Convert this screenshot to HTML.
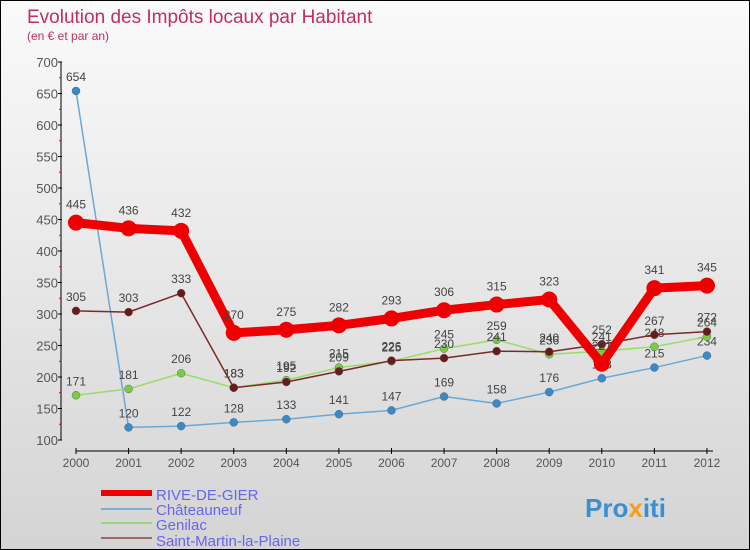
<!DOCTYPE html>
<html><head><meta charset="utf-8"><style>
body{margin:0}
#c{position:relative;width:748px;height:548px;border:1px solid #000;background:linear-gradient(#fafafa,#d4d4d4);font-family:"Liberation Sans",sans-serif;overflow:hidden}
</style></head><body>
<div id="c">
<svg width="748" height="548" id="s">
<text x="26" y="22" font-size="19" fill="#c0305a">Evolution des Impôts locaux par Habitant</text>
<text x="26" y="39" font-size="12" fill="#c0305a">(en € et par an)</text>
<g id="axes"></g><g id="series"></g>
<g>
<rect x="100" y="489" width="51" height="6" fill="#e00"/>
<text x="155" y="499" font-size="15" fill="#6666ee">RIVE-DE-GIER</text>
<rect x="100" y="507" width="51" height="2" fill="#7aaed8"/>
<text x="155" y="514" font-size="15" fill="#6666ee">Châteauneuf</text>
<rect x="100" y="521" width="51" height="2" fill="#99d87a"/>
<text x="155" y="529" font-size="15" fill="#6666ee">Genilac</text>
<rect x="100" y="536" width="51" height="2" fill="#a06666"/>
<text x="155" y="545" font-size="15" fill="#6666ee">Saint-Martin-la-Plaine</text>
</g>
<text x="584" y="516" font-size="26" font-weight="bold" fill="#3a8fd0">Pro<tspan fill="#f0a020">x</tspan>iti</text>
</svg></div>
<script>
const years=[2000,2001,2002,2003,2004,2005,2006,2007,2008,2009,2010,2011,2012];
const rive=[445,436,432,270,275,282,293,306,315,323,221,341,345];
const chat=[654,120,122,128,133,141,147,169,158,176,198,215,234];
const geni=[171,181,206,183,195,215,225,245,259,236,241,248,264];
const stm=[305,303,333,183,192,209,226,230,241,240,252,267,272];
const yTicks=[100,150,200,250,300,350,400,450,500,550,600,650,700];
const NS="http://www.w3.org/2000/svg";
const X=i=>75+i*52.58, Y=v=>439-(v-100)*0.63;
function mk(p,t,a){const e=document.createElementNS(NS,t);for(const k in a)e.setAttribute(k,a[k]);p.appendChild(e);return e;}
const ax=document.getElementById('axes'),sg=document.getElementById('series');
let l=mk(ax,'line',{x1:60,y1:61,x2:60,y2:439,stroke:'#000'});


l=mk(ax,'line',{x1:75,y1:450,x2:712,y2:450,stroke:'#000'});


yTicks.forEach(v=>{
 mk(ax,'line',{x1:57,y1:Y(v),x2:61,y2:Y(v),stroke:'#000'});
 if(v<700)mk(ax,'line',{x1:58,y1:Y(v+25),x2:60,y2:Y(v+25),stroke:'#e00'});
 const t=mk(ax,'text',{x:57,y:Y(v)+5,'font-size':13,fill:'#555','text-anchor':'end'});
 t.textContent=v;
 
 
});
years.forEach((yr,i)=>{
 mk(ax,'line',{x1:X(i),y1:447,x2:X(i),y2:453,stroke:'#000'});
 const t=mk(ax,'text',{x:X(i),y:466,'font-size':12,fill:'#555','text-anchor':'middle'});
 t.textContent=yr;
 
 
});
function series(d,col,dot,w,r,name){
 const g=mk(sg,'g',{});
 
 
 const pl=mk(g,'polyline',{points:d.map((v,i)=>X(i)+','+Y(v)).join(' '),fill:'none',stroke:col,'stroke-width':w,'stroke-linejoin':'round'});
 
 
 d.forEach((v,i)=>{
  const c=mk(g,'circle',{cx:X(i),cy:Y(v),r:r,fill:dot,stroke:w>3?'none':'#555','stroke-width':0.4});
  
  
  const t=mk(g,'text',{x:X(i),y:Y(v)-r-6,'font-size':12,fill:'#444','text-anchor':'middle'});
  t.textContent=v;
  
  
 });
}
series(chat,'#6aa8d8','#3a8ac8',1.5,4,'chateauneuf');
series(geni,'#99dd66','#77cc44',1.5,4,'genilac');
series(stm,'#7a2a2a','#6a1a1a',1.5,4,'saint-martin');
series(rive,'#ee0000','#ee0000',9,8,'rive-de-gier');
</script>
</body></html>
